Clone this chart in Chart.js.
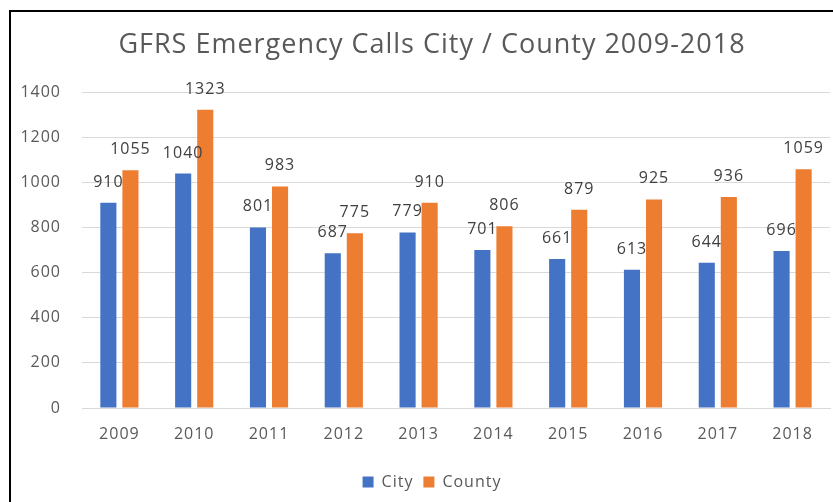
<!DOCTYPE html>
<html>
<head>
<meta charset="utf-8">
<script src="https://cdn.jsdelivr.net/npm/chart.js@4"></script>
<style>
    html, body { margin: 0; padding: 0; background: #fff; overflow: hidden; }
    #frame {
        position: absolute; left: 9px; top: 10px;
        width: 860px; height: 520px;
        border: 2px solid #000; box-sizing: border-box;
    }
    #wrap { position: absolute; left: 11px; top: 12px; width: 842px; height: 490px; }
</style>
</head>
<body>
<div id="frame"></div>
<div id="wrap"><canvas id="chart"></canvas></div>
<script>
// GFRS emergency calls, city vs county, 2009-2018

const YEARS = ['2009', '2010', '2011', '2012', '2013', '2014', '2015', '2016', '2017', '2018'];
const CITY = [910, 1040, 801, 687, 779, 701, 661, 613, 644, 696];
const COUNTY = [1055, 1323, 983, 775, 910, 806, 879, 925, 936, 1059];

const TEXT = '#595959';
const FONT = 'Open Sans';

// Office-style text is a bit wider than Open Sans, so space the letters out.
const spacing = {
    id: 'spacing',
    beforeLayout(chart) { chart.ctx.letterSpacing = '1px'; },
    beforeDraw(chart) { chart.ctx.letterSpacing = '1px'; },
};

// The plot area stops short of the frame's right edge, but title and legend
// are centred on the whole frame.
const centreOnFrame = {
    id: 'centreOnFrame',
    afterLayout(chart) {
        for (const box of [chart.titleBlock, chart.legend]) {
            if (!box) continue;
            box.right = chart.width;
            box.width = box.right - box.left;
        }
    },
};

// ---- Data labels above each bar ------------------------------------------

const barLabels = {
    id: 'barLabels',
    afterDatasetsDraw(chart) {
        const ctx = chart.ctx;
        ctx.save();
        ctx.font = `16px "${FONT}"`;
        ctx.fillStyle = '#404040';
        ctx.textAlign = 'center';
        ctx.textBaseline = 'alphabetic';
        chart.data.datasets.forEach((ds, i) => {
            chart.getDatasetMeta(i).data.forEach((bar, j) => {
                ctx.fillText(String(ds.data[j]), bar.x, bar.y - 16);
            });
        });
        ctx.restore();
    },
};

new Chart(document.getElementById('chart'), {
    type: 'bar',
    data: {
        labels: YEARS,
        datasets: [
            { label: 'City', data: CITY, backgroundColor: '#4472C4' },
            { label: 'County', data: COUNTY, backgroundColor: '#ED7D31' },
        ],
    },
    options: {
        responsive: true,
        maintainAspectRatio: false,
        animation: false,
        categoryPercentage: 0.59,
        barPercentage: 0.73,
        layout: { padding: { top: 0, right: 23, bottom: 2, left: 0 } },
        plugins: {
            title: {
                display: true,
                text: 'GFRS Emergency Calls City / County 2009-2018',
                color: TEXT,
                font: { family: FONT, size: 27, weight: 'normal' },
                padding: { top: 17, bottom: 31 },
            },
            legend: {
                position: 'bottom',
                labels: {
                    color: TEXT,
                    font: { family: FONT, size: 16 },
                    boxWidth: 11,
                    boxHeight: 11,
                    padding: 10,
                },
            },
            tooltip: { enabled: false },
        },
        scales: {
            x: {
                grid: { display: false, drawTicks: false },
                border: { color: '#D9D9D9' },
                ticks: { color: TEXT, font: { family: FONT, size: 16 }, padding: 17 },
                afterFit: (s) => { s.height = 56; },
            },
            y: {
                min: 0,
                max: 1400,
                ticks: {
                    stepSize: 200,
                    color: TEXT,
                    font: { family: FONT, size: 16 },
                    padding: 21,
                    callback: (v) => String(v),
                },
                grid: { color: '#D9D9D9', drawTicks: false },
                border: { display: false },
                afterFit: (s) => { s.width = 71; },
            },
        },
    },
    plugins: [spacing, centreOnFrame, barLabels],
});
</script>
</body>
</html>
